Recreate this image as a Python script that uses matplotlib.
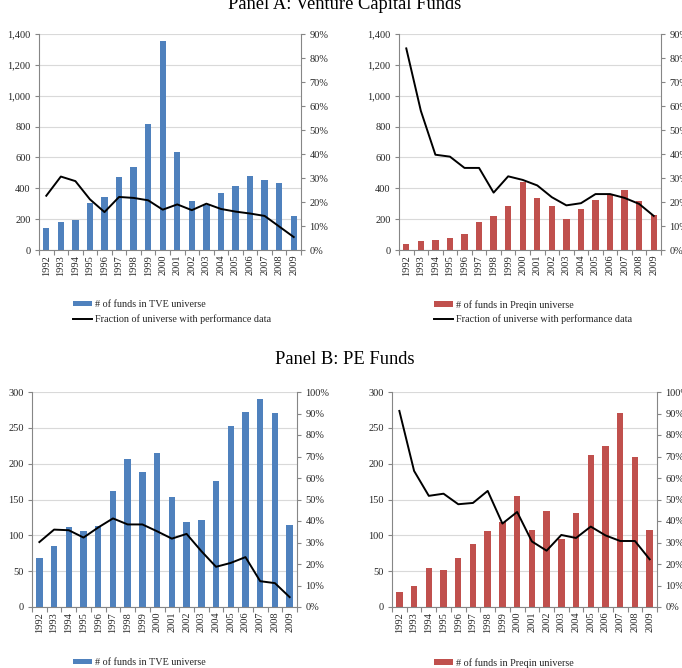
import numpy as np
import matplotlib
matplotlib.use('Agg')
import matplotlib.pyplot as plt
from matplotlib.ticker import FuncFormatter

plt.rcParams['font.family'] = ['Liberation Serif', 'DejaVu Serif']

years = [str(y) for y in range(1992, 2010)]

# Panel A: venture capital
vc_tve = [142, 179, 192, 302, 341, 470, 540, 816, 1356, 638, 318, 292, 372, 412, 481, 455, 432, 218]
vc_tve_frac = [22.6, 30.6, 28.7, 21.1, 15.8, 22.1, 21.7, 20.7, 16.8, 19.0, 16.6, 19.3, 17.1, 16.0, 15.2, 14.2, 9.8, 5.4]
vc_preqin = [38, 57, 67, 78, 102, 183, 218, 284, 438, 340, 282, 200, 268, 327, 356, 390, 318, 224]
vc_preqin_frac = [84.0, 58.0, 39.7, 38.9, 34.2, 34.2, 23.9, 30.7, 29.2, 26.9, 22.0, 18.6, 19.5, 23.3, 23.3, 21.7, 19.2, 14.2]

# Panel B: private equity
pe_tve = [68, 85, 112, 106, 113, 162, 206, 188, 215, 153, 119, 121, 176, 253, 272, 290, 271, 114]
pe_tve_frac = [30.2, 36.0, 35.7, 32.3, 37.0, 41.2, 38.4, 38.4, 35.2, 31.8, 34.0, 26.0, 18.7, 20.5, 23.2, 12.0, 11.1, 4.6]
pe_preqin = [21, 30, 55, 52, 68, 88, 106, 118, 155, 108, 134, 95, 131, 212, 225, 271, 209, 108]
pe_preqin_frac = [91.2, 63.3, 51.7, 52.7, 47.8, 48.4, 54.0, 38.8, 44.2, 30.5, 26.2, 33.5, 32.1, 37.4, 33.3, 30.7, 30.7, 22.2]

blue = '#4f81bd'
red = '#c0504d'
axis_col = '#868686'
text_col = '#262626'

W, H = 682, 668
fig = plt.figure(figsize=(W / 100, H / 100), dpi=100)


def px_axes(l, t, r, b):
    return fig.add_axes([l / W, 1 - b / H, (r - l) / W, (b - t) / H])


def panel(box, counts, frac, color, ymax, ystep, pmax, bar_label, legend_xy):
    ax = px_axes(*box)
    x = np.arange(len(years))
    bars = ax.bar(x, counts, width=0.44, color=color, zorder=2)
    ax.set_xlim(-0.5, len(years) - 0.5)
    ax.set_ylim(0, ymax)
    ax.set_yticks(np.arange(0, ymax + 1, ystep))
    ax.yaxis.set_major_formatter(FuncFormatter(lambda v, p: f'{v:,.0f}'))
    ax.set_xticks(x)
    ax.set_xticklabels(years, rotation=90)
    ax.set_xticks(np.arange(-0.5, len(years), 1), minor=True)
    ax.tick_params(axis='x', which='major', length=0, pad=3.5, labelsize=7.5, labelcolor=text_col)
    ax.tick_params(axis='x', which='minor', length=3.5, color=axis_col, width=0.8)
    ax.tick_params(axis='y', length=3, color=axis_col, width=0.8, labelsize=7.5, labelcolor=text_col, pad=3)
    ax.grid(axis='y', color='#d9d9d9', lw=0.8, zorder=0)
    ax.set_axisbelow(True)
    for s in ['top', 'right']:
        ax.spines[s].set_visible(False)
    for s in ['left', 'bottom']:
        ax.spines[s].set_color(axis_col)
        ax.spines[s].set_linewidth(0.8)

    ax2 = ax.twinx()
    line, = ax2.plot(x, frac, color='black', lw=1.4, zorder=3)
    ax2.set_ylim(0, pmax)
    ax2.set_yticks(np.arange(0, pmax + 1, 10))
    ax2.yaxis.set_major_formatter(FuncFormatter(lambda v, p: f'{v:.0f}%'))
    ax2.tick_params(axis='y', length=3, color=axis_col, width=0.8, labelsize=7.5, labelcolor=text_col, pad=3)
    for s in ['top', 'left', 'bottom']:
        ax2.spines[s].set_visible(False)
    ax2.spines['right'].set_color(axis_col)
    ax2.spines['right'].set_linewidth(0.8)

    fig.legend([bars, line], [bar_label, 'Fraction of universe with performance data'],
               loc='upper left', bbox_to_anchor=(legend_xy[0] / W, 1 - legend_xy[1] / H),
               frameon=False, fontsize=7.3, handlelength=1.9, handleheight=0.5,
               handletextpad=0.3, labelspacing=0.5, borderpad=0, borderaxespad=0,
               labelcolor=text_col)


panel((39, 34, 301, 250), vc_tve, vc_tve_frac, blue, 1400, 200, 90,
      '# of funds in TVE universe', (73, 300))
panel((399, 34, 661, 250), vc_preqin, vc_preqin_frac, red, 1400, 200, 90,
      '# of funds in Preqin universe', (434, 300))
panel((32, 392, 297, 607), pe_tve, pe_tve_frac, blue, 300, 50, 100,
      '# of funds in TVE universe', (73, 658))
panel((392, 392, 657, 607), pe_preqin, pe_preqin_frac, red, 300, 50, 100,
      '# of funds in Preqin universe', (434, 658))

fig.text(345 / W, 1 - 9 / H, 'Panel A: Venture Capital Funds', ha='center', va='baseline',
         fontsize=13.3, color='black')
fig.text(345 / W, 1 - 364 / H, 'Panel B: PE Funds', ha='center', va='baseline',
         fontsize=13.3, color='black')

fig.savefig('out.png', dpi=100)
